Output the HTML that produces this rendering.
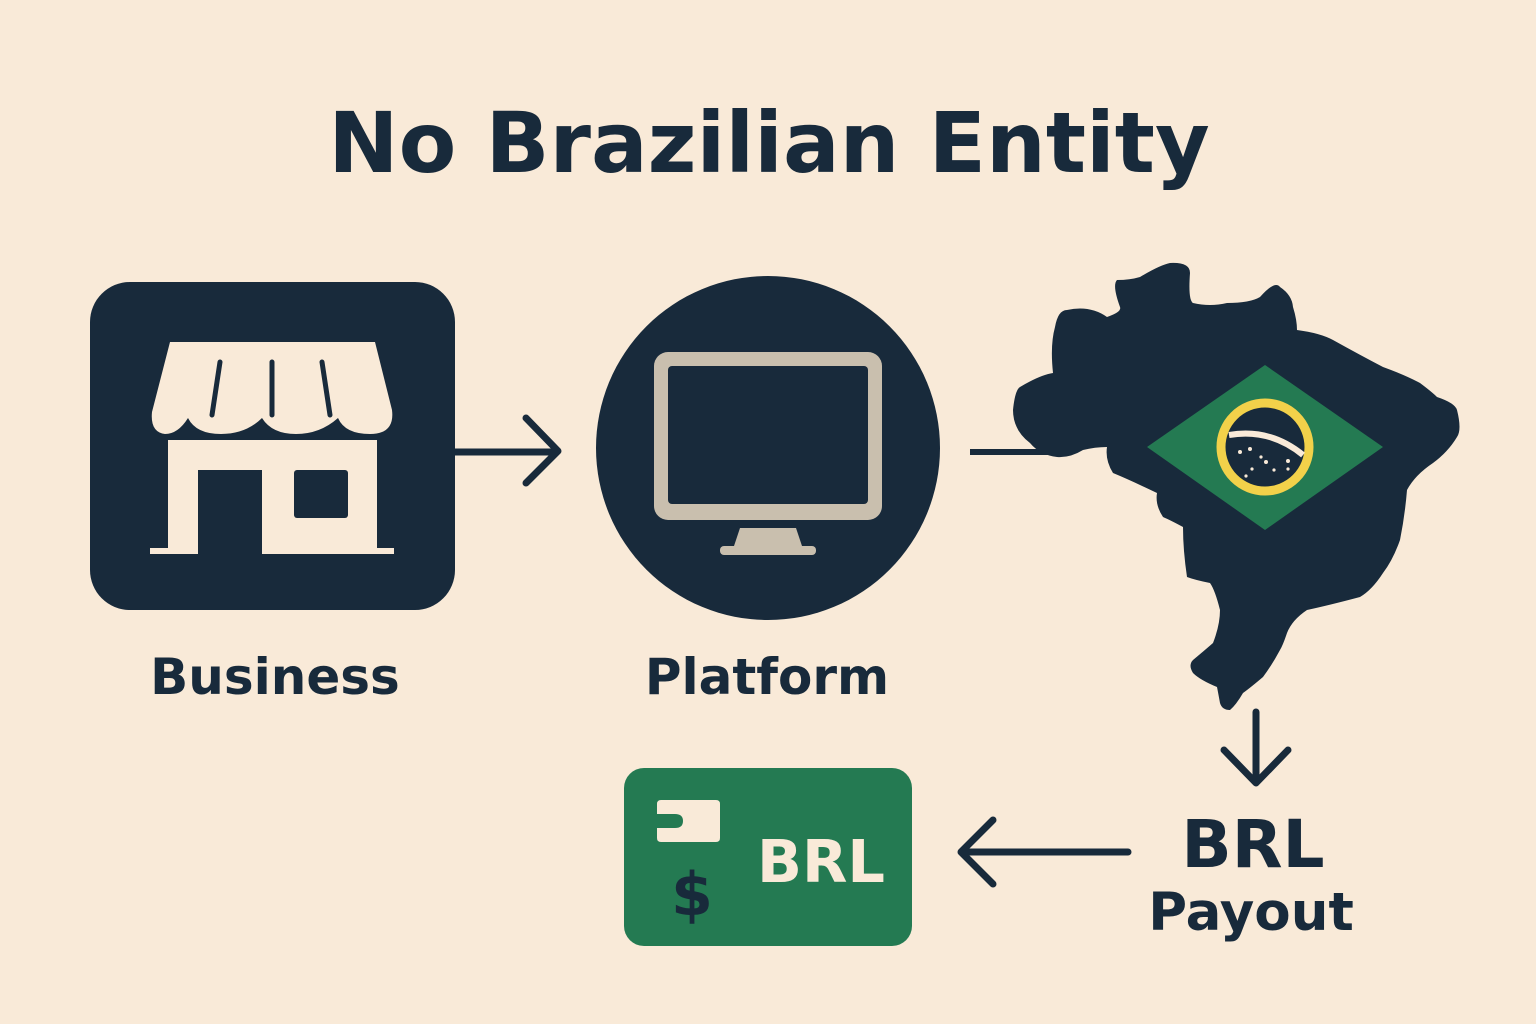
<!DOCTYPE html>
<html><head><meta charset="utf-8"><style>
html,body{margin:0;padding:0;background:#f9ead8;}
svg{display:block}
text{font-family:"DejaVu Sans","Liberation Sans",sans-serif;font-weight:bold;}
</style></head><body>
<svg width="1536" height="1024" viewBox="0 0 1536 1024" xmlns="http://www.w3.org/2000/svg">
<rect width="1536" height="1024" fill="#f9ead8"/>
<text x="769" y="172" text-anchor="middle" font-size="84" fill="#182a3b">No Brazilian Entity</text>

<!-- Business -->
<rect x="90" y="282" width="365" height="328" rx="40" fill="#182a3b"/>
<path d="M170 342 L375 342 L392 410 Q395 434 370 434 Q345 434 338 418 Q320 434 296 434 Q272 434 262 418 Q246 434 221 434 Q196 434 188 418 Q178 434 165 434 Q150 432 152 412 Z" fill="#f9ead8"/>
<path d="M220 362 L212 415 M272 362 L272 415 M322 362 L330 415" stroke="#182a3b" stroke-width="5" stroke-linecap="round" fill="none"/>
<path d="M168 440 H377 V548 H394 V554 H150 V548 H168 Z" fill="#f9ead8"/>
<rect x="198" y="470" width="64" height="84" fill="#182a3b"/>
<rect x="294" y="470" width="54" height="48" rx="3" fill="#182a3b"/>
<text x="275" y="694" text-anchor="middle" font-size="50" fill="#182a3b">Business</text>

<!-- arrow 1 -->
<path d="M455 452 H556 M526 418 L558 451 L526 483" stroke="#182a3b" stroke-width="7" fill="none" stroke-linecap="round" stroke-linejoin="round"/>

<!-- Platform -->
<circle cx="768" cy="448" r="172" fill="#182a3b"/>
<rect x="654" y="352" width="228" height="168" rx="14" fill="#c9bfae"/>
<rect x="668" y="366" width="200" height="138" rx="4" fill="#182a3b"/>
<path d="M740 528 H796 L802 546 H734 Z" fill="#c9bfae"/>
<rect x="720" y="546" width="96" height="9" rx="4" fill="#c9bfae"/>
<text x="767" y="694" text-anchor="middle" font-size="50" fill="#182a3b">Platform</text>

<!-- line to map -->
<path d="M970 452 H1050" stroke="#182a3b" stroke-width="6"/>

<!-- Brazil map -->
<path d="M1013 410 Q1015 390 1020 387 Q1040 375 1053 373 Q1050 345 1055 327 Q1058 310 1067 310 Q1090 305 1107 317 Q1122 312 1120 307 Q1112 285 1117 280 Q1130 280 1140 277 Q1160 265 1170 263 Q1190 262 1190 273 Q1188 300 1193 303 Q1210 307 1227 303 Q1250 303 1260 297 Q1275 280 1280 287 Q1292 295 1293 307 Q1297 320 1297 330 Q1320 333 1333 340 Q1360 355 1383 367 Q1405 375 1420 383 Q1432 392 1437 397 Q1455 403 1457 410 Q1462 430 1457 437 Q1448 452 1433 463 Q1415 475 1407 490 Q1405 515 1400 540 Q1393 560 1383 573 Q1372 590 1360 597 Q1330 605 1307 610 Q1292 620 1287 633 Q1283 645 1280 650 Q1272 665 1263 677 Q1250 688 1243 693 Q1236 705 1230 710 Q1222 710 1220 703 Q1218 692 1217 687 Q1200 680 1193 673 Q1188 665 1193 660 Q1205 650 1213 643 Q1220 625 1220 610 Q1215 590 1210 583 Q1195 580 1187 577 Q1183 550 1183 527 Q1170 520 1163 517 Q1155 505 1157 493 Q1130 480 1113 473 Q1105 460 1107 447 Q1095 447 1083 450 Q1070 458 1057 457 Q1040 455 1030 443 Q1013 430 1013 410 Z" fill="#182a3b"/>
<path d="M1147 447 L1265 365 L1383 447 L1265 530 Z" fill="#247a52"/>
<circle cx="1265" cy="447" r="44" fill="#182a3b" stroke="#f2d14a" stroke-width="9"/>
<path d="M1229 435 Q1270 428 1303 455" stroke="#f9ead8" stroke-width="6" fill="none"/>
<g fill="#f9ead8"><circle cx="1240" cy="452" r="2"/><circle cx="1250" cy="449" r="2"/><circle cx="1261" cy="457" r="1.6"/><circle cx="1266" cy="462" r="2"/><circle cx="1288" cy="461" r="2"/><circle cx="1252" cy="469" r="1.6"/><circle cx="1274" cy="470" r="1.6"/><circle cx="1288" cy="469" r="1.6"/><circle cx="1246" cy="476" r="1.6"/></g>

<!-- down arrow -->
<path d="M1256 712 V782 M1224 750 L1256 783 L1288 750" stroke="#182a3b" stroke-width="7" fill="none" stroke-linecap="round" stroke-linejoin="round"/>
<text x="1253" y="867" text-anchor="middle" font-size="66" fill="#182a3b">BRL</text>
<text x="1251" y="930" text-anchor="middle" font-size="53" fill="#182a3b">Payout</text>

<!-- left arrow -->
<path d="M1128 852 H963 M993 820 L961 852 L993 884" stroke="#182a3b" stroke-width="7" fill="none" stroke-linecap="round" stroke-linejoin="round"/>

<!-- card -->
<rect x="624" y="768" width="288" height="178" rx="20" fill="#247a52"/>
<path d="M661 800 H716 Q720 800 720 804 V838 Q720 842 716 842 H661 Q657 842 657 838 V828 H675 Q683 828 683 821 Q683 814 675 814 H657 V804 Q657 800 661 800 Z" fill="#f9ead8"/>
<text x="692" y="915" text-anchor="middle" font-size="60" fill="#182a3b">$</text>
<text x="821" y="882" text-anchor="middle" font-size="59" fill="#f9ead8">BRL</text>
</svg>
</body></html>
